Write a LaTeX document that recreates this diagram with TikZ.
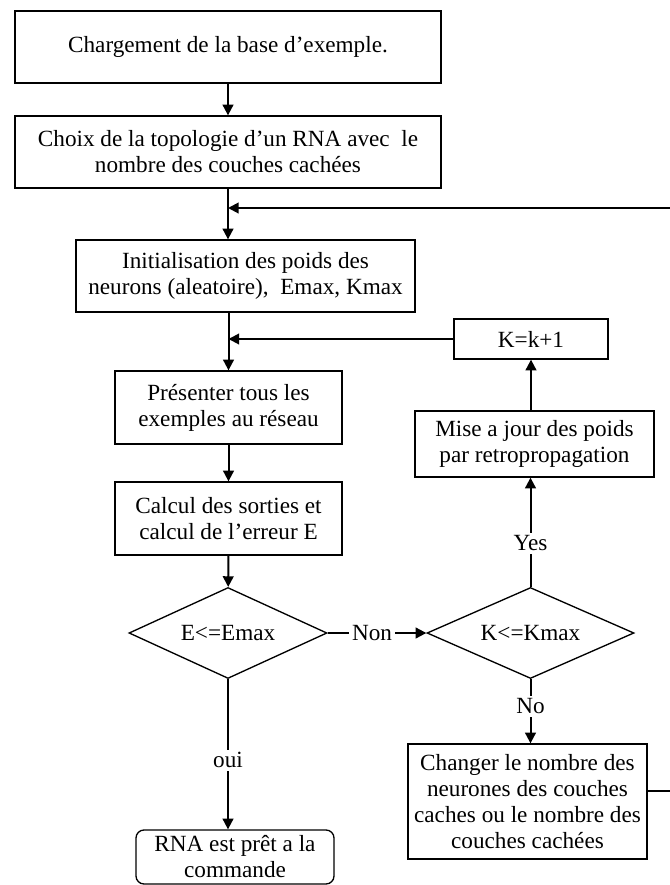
\documentclass[tikz,border=0pt]{standalone}
\usepackage{fontspec}
\setmainfont{Liberation Serif}
\usetikzlibrary{shapes.geometric,arrows.meta}

\newcommand{\flowfont}{\fontsize{17.4}{19.5}\selectfont}
\tikzset{every picture/.style={line width=0.75pt}}
\tikzset{
  boite/.style={draw, line width=1pt, align=center, inner sep=0pt, font=\flowfont},
  arrondi/.style={boite, rounded corners=6pt},
  losange/.style={draw, diamond, line width=1pt, inner sep=0pt, aspect=2.2, font=\flowfont},
  fleche/.style={line width=1.5pt, -{Triangle[length=8pt,width=8pt]}},
  trait/.style={line width=1.5pt},
  etiq/.style={fill=white, inner sep=2pt, font=\flowfont}
}

\begin{document}
\begin{tikzpicture}[x=0.75pt,y=0.75pt,yscale=-1,xscale=1]
			\useasboundingbox (0,0) rectangle (670,885);
			\clip (0,0) rectangle (670,885);
			
			%Shape: Rectangle
			\node [boite, minimum width=319.5pt, minimum height=54pt] (charge) at (228,47) {Chargement de la base d’exemple.};
			%Shape: Rectangle
			\node [boite, minimum width=319.5pt, minimum height=54pt] (topo) at (228,152) {Choix de la topologie d’un RNA avec\ \ le\\nombre des couches cachées};
			%Shape: Rectangle
			\node [boite, minimum width=254.25pt, minimum height=54pt] (init) at (245.5,276) {Initialisation des poids des\\neurons (aleatoire),\ \ Emax, Kmax};
			%Shape: Rectangle
			\node [boite, minimum width=115.5pt, minimum height=30pt] (incr) at (531,339) {K=k+1};
			%Shape: Rectangle
			\node [boite, minimum width=170.25pt, minimum height=54.75pt] (pres) at (228.5,407.5) {Présenter tous les\\exemples au réseau};
			%Shape: Rectangle
			\node [boite, minimum width=170.25pt, minimum height=54.75pt] (calc) at (228.5,518.5) {Calcul des sorties et\\calcul de l’erreur E};
			%Shape: Rectangle
			\node [boite, minimum width=179.25pt, minimum height=49.5pt] (maj) at (534.5,444) {Mise a jour des poids\\par retropropagation};
			%Shape: Diamond
			\node [losange, minimum width=148.5pt, minimum height=68.25pt] (test) at (228,633) {E<=Emax};
			%Shape: Diamond
			\node [losange, minimum width=155.25pt, minimum height=68.25pt] (testk) at (530.5,633) {K<=Kmax};
			%Shape: Rectangle
			\node [boite, minimum width=179.25pt, minimum height=86.25pt] (chg) at (527.5,801.5) {Changer le nombre des\\neurones des couches\\caches ou le nombre des\\couches cachées};
			%Shape: Rounded Rectangle
			\node [arrondi, minimum width=148.5pt, minimum height=40.5pt] (pret) at (235,857) {RNA est prêt a la\\commande};
			
			\coordinate (haut) at (675,208);
			\coordinate (jonc) at (228,208);
			\coordinate (sortie) at (675,791);
			
			%Straight Lines
			\draw [fleche] (charge) -- (topo);
			\draw [fleche] (topo.south) -- (topo.south |- init.north);
			\draw [trait] (chg.east |- sortie) -- (sortie) -- (haut);
			\draw [fleche] (haut) -- (jonc);
			\draw [fleche] (init.south -| pres.north) -- (pres.north);
			\draw [fleche] (incr.west) -- (incr.west -| pres.north);
			\draw [fleche] (pres) -- (calc);
			\draw [fleche] (calc) -- (test);
			\draw [fleche] (test.east) -- node [etiq, pos=0.45] {Non} (testk.west);
			\draw [fleche] (testk.north) -- node [etiq, pos=0.4] {Yes} (testk.north |- maj.south);
			\draw [fleche] (maj.north -| incr.south) -- (incr.south);
			\draw [fleche] (testk.south) -- node [etiq, pos=0.42] {No} (testk.south |- chg.north);
			\draw [fleche] (test.south) -- node [etiq, pos=0.54] {oui} (test.south |- pret.north);
\end{tikzpicture}
\end{document}
